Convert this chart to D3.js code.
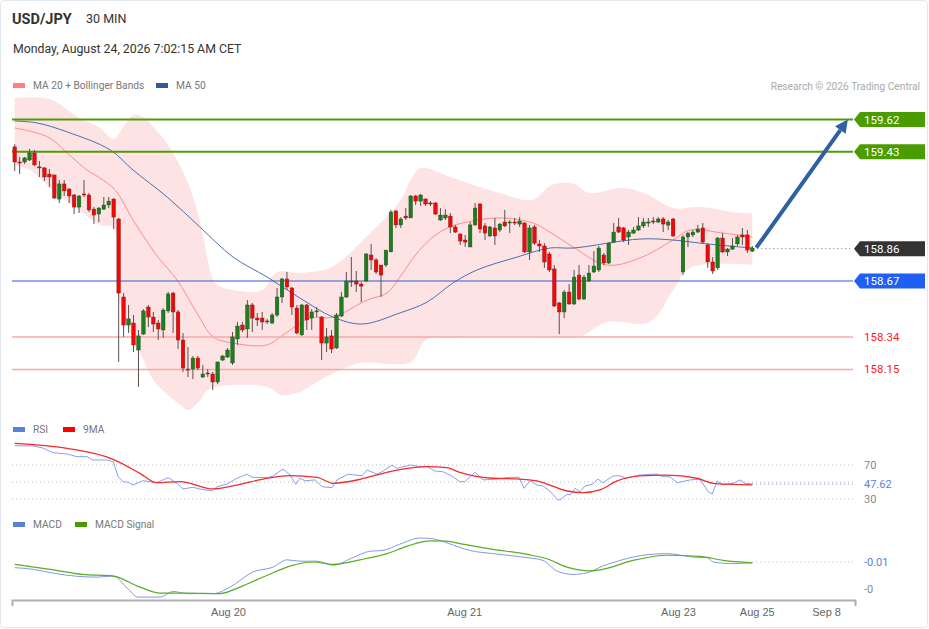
<!DOCTYPE html>
<html>
<head>
<meta charset="utf-8">
<script src="https://cdn.jsdelivr.net/npm/d3@7"></script>
<style>
  body { margin: 0; background: #fff; }
  svg { display: block; font-family: Roboto, "Liberation Sans", Arial, sans-serif; }
</style>
</head>
<body>
<svg id="chart" width="929" height="629"></svg>
<script>
/* =======================
   DATA (30 min candles, index = bar number)
   ======================= */

// [open, high, low, close], null = empty slot
const candles = [
  [159.459,159.475,159.317,159.370],[159.370,159.400,159.299,159.364],[159.370,159.400,159.358,159.394],
  [159.382,159.447,159.376,159.423],[159.423,159.441,159.347,159.353],[159.341,159.376,159.282,159.335],
  [159.335,159.341,159.258,159.282],[159.299,159.329,159.223,159.282],[159.294,159.294,159.152,159.158],
  [159.152,159.264,159.129,159.241],[159.241,159.264,159.170,159.200],[159.211,159.217,159.129,159.170],
  [159.176,159.182,159.064,159.105],[159.105,159.176,159.070,159.170],[159.182,159.264,159.164,159.176],
  [159.176,159.188,159.076,159.088],[159.093,159.105,159.005,159.058],[159.064,159.105,159.017,159.099],
  [159.093,159.164,159.088,159.117],[159.117,159.164,159.099,159.140],[159.152,159.158,158.976,159.046],
  [159.035,159.041,158.194,158.599],[158.576,158.599,158.341,158.411],[158.411,158.529,158.364,158.447],
  [158.423,158.470,158.252,158.294],[158.264,158.382,158.047,158.347],[158.358,158.505,158.353,158.494],
  [158.517,158.529,158.399,158.458],[158.458,158.488,158.370,158.417],[158.423,158.441,158.323,158.388],
  [158.382,158.511,158.335,158.499],[158.494,158.606,158.482,158.594],[158.599,158.606,158.364,158.488],
  [158.488,158.499,158.270,158.323],[158.323,158.364,158.135,158.158],[158.152,158.282,158.105,158.146],
  [158.152,158.229,158.093,158.217],[158.217,158.229,158.146,158.158],[158.105,158.176,158.099,158.123],
  [158.129,158.152,158.105,158.123],[158.123,158.135,158.029,158.076],[158.076,158.194,158.064,158.194],
  [158.205,158.235,158.199,158.229],[158.223,158.276,158.217,158.264],[158.188,158.370,158.176,158.341],
  [158.329,158.429,158.294,158.405],[158.411,158.429,158.370,158.382],[158.388,158.558,158.335,158.529],
  [158.529,158.541,158.370,158.452],[158.452,158.482,158.405,158.441],[158.452,158.488,158.382,158.429],
  [158.429,158.447,158.417,158.435],[158.423,158.482,158.417,158.470],[158.470,158.629,158.458,158.576],
  [158.576,158.688,158.541,158.682],[158.682,158.723,158.617,158.635],[158.629,158.635,158.470,158.517],
  [158.511,158.529,158.358,158.364],[158.353,158.535,158.347,158.529],[158.529,158.535,158.382,158.441],
  [158.452,158.505,158.382,158.488],[158.488,158.517,158.458,158.494],[158.458,158.464,158.205,158.305],
  [158.305,158.394,158.252,158.341],[158.347,158.382,158.246,158.270],[158.276,158.482,158.270,158.470],
  [158.464,158.606,158.458,158.576],[158.576,158.723,158.570,158.670],[158.664,158.811,158.635,158.670],
  [158.670,158.729,158.605,158.652],[158.652,158.664,158.546,158.640],[158.670,158.835,158.664,158.829],
  [158.823,158.888,158.735,158.794],[158.794,158.805,158.711,158.723],[158.764,158.764,158.576,158.705],
  [158.764,158.852,158.752,158.852],[158.841,159.088,158.841,159.076],[159.082,159.088,158.982,159.000],
  [159.000,159.046,158.982,159.035],[159.052,159.099,159.029,159.041],[159.041,159.176,159.041,159.170],
  [159.170,159.176,159.117,159.140],[159.140,159.182,159.111,159.176],[159.152,159.158,159.111,159.123],
  [159.129,159.140,159.111,159.123],[159.129,159.135,159.058,159.064],[159.029,159.099,159.023,159.058],
  [159.041,159.093,159.029,159.058],[159.052,159.070,158.952,158.988],[158.988,159.000,158.952,158.958],
  [158.946,158.952,158.882,158.905],[158.911,158.941,158.870,158.899],[158.870,159.017,158.870,159.000],
  [159.000,159.129,158.994,159.099],[159.123,159.129,158.952,158.976],[158.994,159.011,158.911,158.952],
  [158.935,158.994,158.929,158.988],[158.982,159.041,158.882,158.935],[158.970,159.011,158.958,159.005],
  [159.017,159.088,158.988,158.994],[159.011,159.029,158.952,159.017],[159.017,159.041,158.999,159.011],
  [159.005,159.046,158.988,159.023],[159.011,159.017,158.835,158.841],[158.841,159.000,158.794,158.982],
  [158.988,159.000,158.882,158.893],[158.888,158.911,158.841,158.876],[158.876,158.893,158.747,158.782],
  [158.829,158.841,158.723,158.735],[158.741,158.764,158.517,158.523],[158.541,158.546,158.358,158.488],
  [158.488,158.617,158.452,158.605],[158.605,158.652,158.529,158.535],[158.535,158.735,158.529,158.693],
  [158.705,158.764,158.558,158.564],[158.564,158.705,158.558,158.693],[158.670,158.764,158.664,158.717],
  [158.723,158.846,158.717,158.758],[158.735,158.876,158.723,158.864],[158.823,158.835,158.764,158.776],
  [158.776,158.899,158.770,158.893],[158.899,159.011,158.893,158.958],[158.988,159.041,158.952,158.958],
  [158.982,158.988,158.899,158.911],[158.929,158.970,158.882,158.958],[158.952,158.988,158.946,158.970],
  [158.970,159.046,158.964,158.994],[158.994,159.041,158.982,159.017],[159.011,159.041,158.988,159.017],
  [159.023,159.046,159.005,159.017],[159.017,159.046,159.011,159.035],[159.035,159.046,158.958,159.005],
  [158.999,159.029,158.970,159.017],[159.035,159.041,158.929,158.935],null,
  [158.723,158.941,158.705,158.929],[158.929,158.958,158.870,158.952],[158.941,158.970,158.929,158.958],
  [158.958,159.000,158.952,158.976],[158.982,159.011,158.893,158.899],[158.882,158.893,158.747,158.782],
  [158.782,158.811,158.711,158.729],[158.747,158.929,158.735,158.923],[158.923,158.952,158.835,158.841],
  [158.841,158.864,158.817,158.858],[158.858,158.923,158.852,158.876],[158.888,158.941,158.876,158.929],
  [158.941,158.982,158.882,158.929],[158.941,158.970,158.835,158.852],[158.846,158.876,158.841,158.864]
];

// [bar index, value]
const bbUpper = [[0,159.747],[7,159.741],[13,159.629],[17,159.576],[20,159.505],[22,159.58],[24,159.647],
  [26,159.635],[28,159.576],[31,159.470],[35,159.247],[37.5,159.011],[39,158.794],[40.5,158.658],[44,158.617],
  [50,158.617],[53,158.723],[57.5,158.717],[64,158.752],[71,158.929],[78,159.146],[80,159.264],[82,159.335],
  [88,159.282],[91.5,159.247],[98,159.188],[104.5,159.146],[108.5,159.235],[113,159.241],[116,159.188],
  [123,159.217],[128,159.176],[133,159.099],[138.5,159.105],[146.5,159.070],[149,159.070]];
const bbLower = [[0,159.352],[3,159.323],[7.7,159.205],[13.8,159.070],[17.2,159.000],[20,158.982],
  [21.3,158.529],[24,158.323],[26,158.205],[28,158.088],[31,158.000],[33.5,157.940],[35,157.911],
  [37.5,157.970],[39,158.029],[44,158.058],[51,158.047],[54,158.000],[57.5,158.017],[61.7,158.088],
  [65.7,158.146],[70,158.188],[80,158.194],[83,158.323],[88,158.335],[98,158.347],[108,158.341],
  [114,158.341],[119.6,158.429],[128.3,158.429],[133,158.617],[136.4,158.747],[149,158.764]];
const ma20 = [[0,159.570],[3.7,159.547],[7.1,159.511],[10.6,159.423],[14.6,159.323],[17.2,159.276],
  [20.3,159.205],[23.9,159.029],[27.9,158.852],[29.4,158.794],[32.8,158.676],[36.8,158.482],[40.1,158.341],
  [44.1,158.305],[51,158.294],[54.2,158.353],[59.7,158.452],[64.3,158.458],[71.2,158.558],[75.2,158.599],
  [77.8,158.693],[81.3,158.835],[84.5,158.929],[87.9,158.988],[91.4,159.017],[98,159.041],[104.7,159.011],
  [108.1,158.958],[112.8,158.870],[119.6,158.764],[126.3,158.805],[133,158.911],[136.4,158.970],
  [143.1,158.952],[149,158.929]];
const ma50 = [[0,159.611],[4.5,159.600],[10.6,159.547],[19.3,159.441],[23.9,159.323],[30.8,159.164],
  [37.4,158.988],[44.1,158.811],[51,158.693],[57.6,158.570],[64.3,158.458],[70.2,158.417],[77.8,158.482],
  [83.3,158.546],[88.5,158.658],[93.4,158.735],[101.5,158.811],[108.1,158.864],[112.8,158.864],
  [126.3,158.917],[133,158.911],[139.9,158.888],[149,158.864]];

const rsi = [[0,92.7],[3.7,92.4],[5.7,90.0],[7.7,84.5],[10.6,82.9],[12.6,79.8],[14.6,79.8],[15.8,75.9],
  [18.6,75.9],[19.9,73.9],[20.9,56.2],[21.9,50.4],[22.9,49.6],[23.9,46.5],[25.9,51.5],[28.7,49.2],[31,55.1],
  [32.8,48.5],[34,41.8],[36,43.8],[37.4,41.8],[39.9,39.4],[40.9,44.5],[42.9,47.6],[44.9,54.4],[46.9,59.1],
  [48.1,55.5],[51,55.1],[52.2,57.1],[54.2,65.3],[55.6,58.2],[56.8,47.3],[57.6,54.4],[58.6,51.5],[60.7,52.4],
  [62.1,44.5],[64.1,43.3],[65.1,52.4],[67.3,59.1],[70.2,57.4],[71.2,64.1],[73.2,59.1],[74.4,62.9],[76.2,70.0],
  [77.2,66.1],[79.9,70.0],[81.9,68.0],[83.3,68.0],[84.9,62.9],[86.5,62.1],[88.3,57.1],[89.9,50.4],[90.9,50.4],
  [93,61.4],[94.6,52.4],[96.6,53.2],[100.1,55.5],[101.9,55.5],[102.9,42.6],[104.1,51.5],[105.5,46.5],
  [106.7,45.3],[108.1,39.4],[109.6,29.6],[110.2,28.8],[111.6,35.9],[112.2,34.7],[113.2,42.6],[114.2,38.6],
  [115.2,45.3],[116.8,47.6],[117.8,53.5],[118.8,49.2],[120.9,57.1],[122.3,57.4],[123.3,54.4],[126.3,58.2],
  [129.8,59.4],[130.8,56.2],[132.4,56.2],[133.8,49.2],[136.4,52.4],[138.4,53.5],[140.1,38.6],[140.9,35.9],
  [141.9,51.2],[143.1,46.5],[145.1,48.5],[146.5,52.4],[147.5,48.5],[149,47.62]];
const rsiMa = [[0,95.5],[10.6,89.6],[19.9,76.7],[25.3,60.2],[28.7,49.2],[33.4,50.4],[40.1,41.8],[45.5,47.3],
  [50.2,53.5],[55.6,57.4],[61.1,55.5],[64.3,48.5],[69.8,53.2],[73.8,59.4],[83.3,68.0],[87.3,66.8],[89.9,61.4],
  [96.6,54.4],[102.1,53.5],[105.5,51.2],[111.6,39.4],[114.8,37.4],[118.2,40.6],[121.7,51.2],[126.3,57.1],
  [131.8,58.2],[137.8,54.4],[141.1,48.5],[145.1,47.3],[149,46.5]];

const macd = [[0,-0.0121],[3.7,-0.0127],[7.7,-0.0141],[12.6,-0.0153],[16.6,-0.0156],[19.9,-0.0152],
  [22.7,-0.0196],[24.9,-0.0230],[29.4,-0.0230],[32,-0.0209],[34.8,-0.0217],[40.1,-0.0217],[43.5,-0.0193],
  [48.1,-0.0137],[52.2,-0.0119],[55,-0.0092],[57.6,-0.0097],[61.1,-0.0097],[64.3,-0.0112],[68.3,-0.0084],
  [71.8,-0.0060],[74.4,-0.0057],[77.8,-0.0034],[81.9,-0.0011],[84.5,-0.0014],[87.3,-0.0029],[89.9,-0.0046],
  [91.9,-0.0057],[96.6,-0.0069],[102.7,-0.0082],[106.7,-0.0094],[109.6,-0.0134],[112.8,-0.0146],
  [115.6,-0.0140],[118.8,-0.0115],[122.3,-0.0094],[127.7,-0.0073],[131.8,-0.0069],[137,-0.0082],
  [139.9,-0.0084],[141.1,-0.0100],[145.1,-0.0106],[149,-0.0103]];
const macdSignal = [[0,-0.0109],[7.1,-0.0127],[13.8,-0.0146],[19.9,-0.0152],[25.3,-0.0193],[29.4,-0.0215],
  [34.8,-0.0215],[41.5,-0.0217],[45.5,-0.0193],[51,-0.0149],[55.6,-0.0115],[60.3,-0.0100],[64.3,-0.0109],
  [69.8,-0.0092],[75.2,-0.0069],[79.2,-0.0042],[83.9,-0.0022],[87.3,-0.0023],[89.9,-0.0032],[96.6,-0.0053],
  [103.5,-0.0072],[107.5,-0.0088],[111.6,-0.0119],[116.2,-0.0133],[118.8,-0.0127],[124.9,-0.0094],
  [131.8,-0.0075],[138.4,-0.0079],[143.1,-0.0094],[149,-0.0103]];

// key levels
const resistance = [159.62, 159.43];
const support = [158.34, 158.15];
const pivot = 158.67;
const lastPrice = 158.86;
const target = [168.3, 159.62];      // arrow end [bar index, price]

const rsiLevels = [70, 50, 30];
const rsiLast = 47.62;
const macdLast = -0.0100;
const macdTicks = [[-0.0100, "-0.01"], [-0.0200, "-0"]];

const tickIdx = [43.1, 90.8, 134, 149.9, 163.9];
const tickLabels = ["Aug 20", "Aug 21", "Aug 23", "Aug 25", "Sep 8"];

/* =======================
   SCALES
   ======================= */
const svg = d3.select("#chart");
const xScale = d3.scaleLinear().domain([0, 149]).range([14.7, 752.3]);
const yScale = d3.scaleLinear().domain([158, 159.6]).range([394.91, 122.91]);
const yRsi = d3.scaleLinear().domain([30, 70]).range([499, 465]);
const yMacd = d3.scaleLinear().domain([-0.02, 0]).range([589, 535]);
const leftX = 12, rightX = 853;

// frame
svg.append("rect").attr("x", 0.5).attr("y", 0.5).attr("width", 927).attr("height", 627)
  .attr("rx", 3).attr("fill", "#fff").attr("stroke", "#e2e9f0");

/* Header */
svg.append("text").attr("x", 12).attr("y", 24).attr("font-size", 14.5).attr("font-weight", "bold")
  .attr("fill", "#333").text("USD/JPY");
svg.append("text").attr("x", 86).attr("y", 23).attr("font-size", 12.5).attr("fill", "#333").text("30 MIN");
svg.append("text").attr("x", 13).attr("y", 53).attr("font-size", 12.3).attr("fill", "#333")
  .text("Monday, August 24, 2026 7:02:15 AM CET");
svg.append("text").attr("x", 920).attr("y", 90).attr("font-size", 10.2).attr("fill", "#aaa")
  .attr("text-anchor", "end").text("Research © 2026 Trading Central");

const legend = (items, yPos) => {
  items.forEach(([xPos, color, label]) => {
    svg.append("rect").attr("x", xPos).attr("y", yPos - 4).attr("width", 12).attr("height", 5).attr("fill", color);
    svg.append("text").attr("x", xPos + 20).attr("y", yPos + 2).attr("font-size", 10.2).attr("fill", "#777").text(label);
  });
};
legend([[13, "#ff7f7f", "MA 20 + Bollinger Bands"], [156, "#345a9a", "MA 50"]], 87);
legend([[13, "#5b7fdc", "RSI"], [63, "#f00", "9MA"]], 431);
legend([[13, "#5b7fdc", "MACD"], [75, "#4a9a00", "MACD Signal"]], 526);

/* Bollinger band + moving averages */
const smooth = d3.line().x(d => xScale(d[0])).y(d => yScale(d[1])).curve(d3.curveCatmullRom.alpha(0.5));
const bandPath = smooth(bbUpper) + "L" + smooth(bbLower.slice().reverse()).slice(1) + "Z";
svg.append("path").attr("d", bandPath).attr("fill", "#fde3e3");
svg.append("path").attr("d", smooth(ma20)).attr("fill", "none").attr("stroke", "#ff8c8c").attr("stroke-width", 1);
svg.append("path").attr("d", smooth(ma50)).attr("fill", "none").attr("stroke", "#4b6fb0").attr("stroke-width", 1);

/* Level lines */
const hline = (v, color, w, dash) => svg.append("line")
  .attr("x1", leftX).attr("x2", rightX).attr("y1", yScale(v)).attr("y2", yScale(v))
  .attr("stroke", color).attr("stroke-width", w).attr("stroke-dasharray", dash || null);
resistance.forEach(v => hline(v, "#4e9c08", 2));
support.forEach(v => hline(v, "#f8a8a8", 1.5));
hline(pivot, "#2a5fd8", 1.2);
svg.append("line").attr("x1", xScale(149) + 5).attr("x2", rightX)
  .attr("y1", yScale(lastPrice)).attr("y2", yScale(lastPrice))
  .attr("stroke", "#666").attr("stroke-dasharray", "1,3");

/* Candles */
const bars = candles.map((c, i) => c && { i, o: c[0], h: c[1], l: c[2], c: c[3] }).filter(Boolean);
const cg = svg.append("g");
cg.selectAll("line").data(bars).join("line")
  .attr("x1", d => xScale(d.i)).attr("x2", d => xScale(d.i))
  .attr("y1", d => yScale(d.h)).attr("y2", d => yScale(d.l))
  .attr("stroke", "#5a5050").attr("stroke-width", 1);
cg.selectAll("rect").data(bars).join("rect")
  .attr("x", d => xScale(d.i) - 1.8).attr("width", 3.6)
  .attr("y", d => yScale(Math.max(d.o, d.c)))
  .attr("height", d => Math.max(1, Math.abs(yScale(d.o) - yScale(d.c))))
  .attr("fill", d => d.c >= d.o ? "#1f7d1f" : "#ee0a0a")
  .attr("stroke", d => d.c >= d.o ? "#1a4d1a" : "#8a1010").attr("stroke-width", 0.4);

/* Forecast arrow */
const ax0 = xScale(149) + 4, ay0 = yScale(lastPrice) - 1;
const ax1 = xScale(target[0]), ay1 = yScale(target[1]);
const ang = Math.atan2(ay1 - ay0, ax1 - ax0);
const headLen = 13, headW = 6.5;
const bx = ax1 - headLen * Math.cos(ang), by = ay1 - headLen * Math.sin(ang);
svg.append("line").attr("x1", ax0).attr("y1", ay0).attr("x2", bx).attr("y2", by)
  .attr("stroke", "#2f60a0").attr("stroke-width", 4);
svg.append("path").attr("fill", "#2f60a0").attr("d",
  `M${ax1},${ay1}L${bx + headW * Math.sin(ang)},${by - headW * Math.cos(ang)}` +
  `L${bx - headW * Math.sin(ang)},${by + headW * Math.cos(ang)}Z`);

/* Price tags */
const tag = (v, fill, yPos) => {
  const cy = yPos;
  svg.append("path").attr("fill", fill)
    .attr("d", `M854,${cy}L860,${cy - 7.5}H925V${cy + 7.5}H860Z`);
  svg.append("text").attr("x", 864).attr("y", cy + 4).attr("font-size", 11.5)
    .attr("fill", "#fff").text(v.toFixed(2));
};
resistance.forEach(v => tag(v, "#4a9c00", yScale(v)));
tag(lastPrice, "#333", yScale(lastPrice));
tag(pivot, "#1f5ff2", yScale(pivot));
support.forEach(v => svg.append("text").attr("x", 864).attr("y", yScale(v) + 4)
  .attr("font-size", 11.5).attr("fill", "#ff2020").text(v.toFixed(2)));

/* RSI panel */
rsiLevels.forEach(v => svg.append("line").attr("x1", leftX).attr("x2", rightX)
  .attr("y1", yRsi(v)).attr("y2", yRsi(v)).attr("stroke", "#bbb").attr("stroke-dasharray", "1,3"));
[70, 30].forEach(v => svg.append("text").attr("x", 864).attr("y", yRsi(v) + 4)
  .attr("font-size", 11).attr("fill", "#888").text(v));
const rsiLine = d3.line().x(d => xScale(d[0])).y(d => yRsi(d[1]));
svg.append("path").attr("d", rsiLine(rsi)).attr("fill", "none").attr("stroke", "#87a0ec").attr("stroke-width", 1);
svg.append("path").attr("d", rsiLine.curve(d3.curveMonotoneX)(rsiMa)).attr("fill", "none")
  .attr("stroke", "#f52a2a").attr("stroke-width", 1.3);
svg.append("line").attr("x1", xScale(149)).attr("x2", rightX).attr("y1", yRsi(rsiLast)).attr("y2", yRsi(rsiLast))
  .attr("stroke", "#5b7fdc").attr("stroke-dasharray", "1,3");
svg.append("text").attr("x", 864).attr("y", yRsi(rsiLast) + 4).attr("font-size", 11)
  .attr("fill", "#5b7fdc").text(rsiLast.toFixed(2));

/* MACD panel */
const macdLine = d3.line().x(d => xScale(d[0])).y(d => yMacd(d[1])).curve(d3.curveMonotoneX);
svg.append("path").attr("d", macdLine(macd)).attr("fill", "none").attr("stroke", "#7f9aea").attr("stroke-width", 1);
svg.append("path").attr("d", macdLine(macdSignal)).attr("fill", "none").attr("stroke", "#5aac22").attr("stroke-width", 1.2);
svg.append("line").attr("x1", xScale(149)).attr("x2", rightX).attr("y1", yMacd(macdLast)).attr("y2", yMacd(macdLast))
  .attr("stroke", "#9db2ee").attr("stroke-dasharray", "1,3");
macdTicks.forEach(([v, t], k) => svg.append("text").attr("x", 864).attr("y", yMacd(v) + 4)
  .attr("font-size", 11).attr("fill", k === 0 ? "#5b7fdc" : "#888").text(t));

/* Time axis */
const axisScale = d3.scaleLinear().domain([xScale.invert(12), xScale.invert(855)]).range([12, 855]);
const axis = svg.append("g").attr("transform", "translate(0,600)")
  .call(d3.axisBottom(axisScale).tickValues(tickIdx).tickFormat((d, i) => tickLabels[i])
    .tickSizeInner(0).tickSizeOuter(6).tickPadding(8));
axis.select(".domain").attr("stroke", "#b0b0b0").attr("stroke-width", 2);
axis.selectAll("text").attr("fill", "#666").attr("font-size", 11).attr("font-family", null);
</script>
</body>
</html>
